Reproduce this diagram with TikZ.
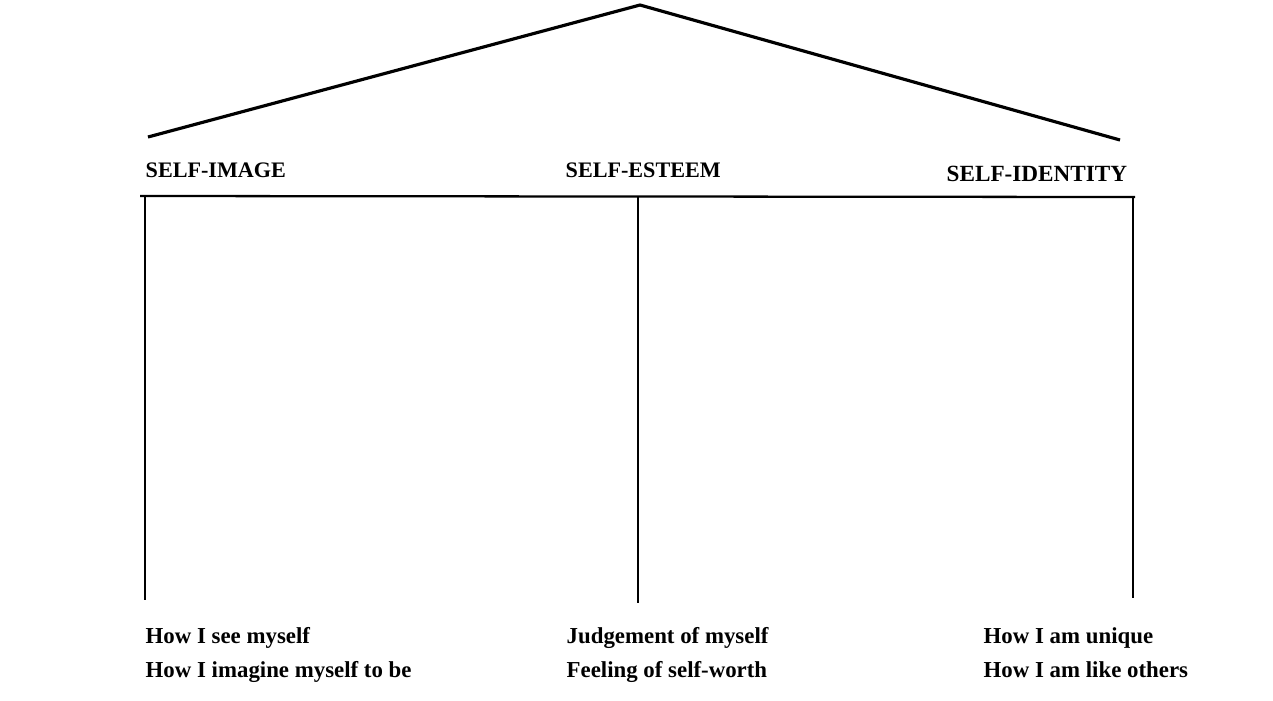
\documentclass[tikz,border=0pt]{standalone}
\usepackage{fontspec}
\setmainfont{Liberation Serif}
\usepackage{tikz}

\begin{document}
\begin{tikzpicture}[
      heading/.style={anchor=base west, inner sep=0pt, font=\fontsize{6.3}{7.5}\selectfont\bfseries},
      meaning/.style={anchor=base west, inner sep=0pt, align=left, font=\fontsize{6.5}{9.6}\selectfont\bfseries},
      roof/.style={line width=0.9pt},
      stem/.style={line width=0.65pt}]
         \useasboundingbox (0, 0) rectangle (12.73, 7.00);
         % roof
         \coordinate (apex) at (6.40, 6.95);
         \coordinate (roofL) at (1.48, 5.63);
         \coordinate (roofR) at (11.20, 5.60);
         \draw[roof] (roofL) -- (apex) -- (roofR);
         % the three parts
         \node[heading] (image) at (1.45, 5.23) {SELF-IMAGE};
         \node[heading] (esteem) at (5.65, 5.23) {SELF-ESTEEM};
         \node[heading, font=\fontsize{6.6}{7.5}\selectfont\bfseries] (identity) at (9.46, 5.19) {SELF-IDENTITY};
         \coordinate (barL) at (1.40, 5.04);
         \coordinate (barR) at (11.35, 5.03);
         \draw[stem] (barL) -- (barR);
         \coordinate (topA) at (1.45, 5.04);
         \coordinate (topB) at (6.38, 5.04);
         \coordinate (topC) at (11.33, 5.03);
         \coordinate (footA) at (1.45, 1.00);
         \coordinate (footB) at (6.38, 0.97);
         \coordinate (footC) at (11.33, 1.02);
         \draw[stem] (topA) -- (footA);
         \draw[stem] (topB) -- (footB);
         \draw[stem] (topC) -- (footC);
         % what each part means
         \node[meaning] (seeing) at (1.45, 0.23) {How I see myself\\How I imagine myself to be};
         \node[meaning] (judging) at (5.66, 0.23) {Judgement of myself\\Feeling of self-worth};
         \node[meaning] (being) at (9.83, 0.23) {How I am unique\\How I am like others};
      \end{tikzpicture}
\end{document}
